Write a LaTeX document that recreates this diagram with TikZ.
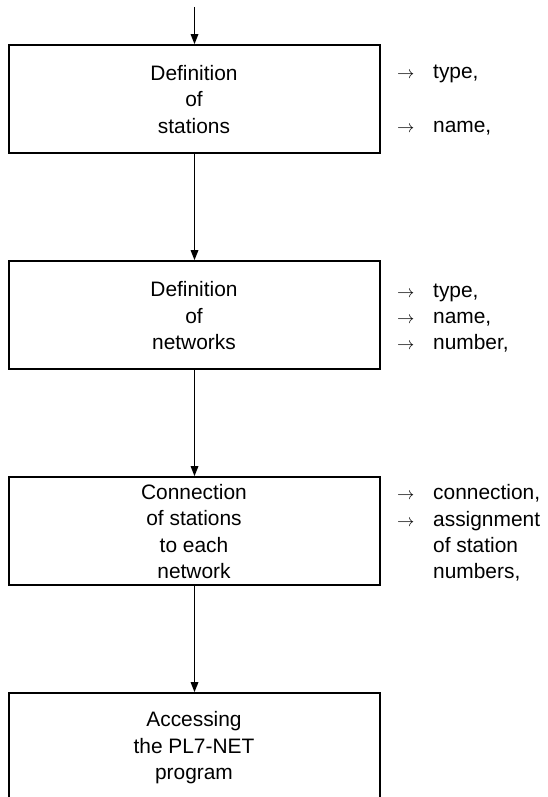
\documentclass[tikz,border=0pt]{standalone}
\usepackage{fontspec}
\setmainfont{Liberation Sans}
\usetikzlibrary{arrows.meta}
\begin{document}
\begin{tikzpicture}[x=1pt,y=-1pt,
  boxst/.style={draw,line width=1.6pt,minimum width=371pt,minimum height=108pt,inner sep=0pt},
  btext/.style={align=center,anchor=base,inner sep=0pt,font=\fontsize{20.9}{26.5}\selectfont},
  rtext/.style={anchor=base west,inner sep=0pt,font=\fontsize{20.9}{26.5}\selectfont},
  rarr/.style={anchor=base west,inner sep=0pt,font=\fontsize{19}{22}\selectfont},
  flow/.style={line width=1.5pt,-{Triangle[length=10pt,width=7.5pt]}}]
\clip (0,0) rectangle (547,797);
\fill[white] (0,0) rectangle (547,797);
% boxes
\node[boxst] (b1) at (194.5,99) {};
\node[boxst] (b2) at (194.5,315) {};
\node[boxst] (b3) at (194.5,531) {};
\node[boxst] (b4) at (194.5,747) {};
% box texts (anchor base = last line baseline)
\node[btext] (t1) at (194,133) {Definition\\of\\stations};
\node[btext] (t2) at (194,349.5) {Definition\\of\\networks};
\node[btext] (t3) at (194,578.5) {Connection\\of stations\\to each\\network};
\node[btext] (t4) at (194,779.5) {Accessing\\the PL7-NET\\program};
% connectors
\coordinate (start) at (194.5,7);
\draw[flow] (start) -- (b1.north);
\draw[flow] (b1.south) -- (b2.north);
\draw[flow] (b2.south) -- (b3.north);
\draw[flow] (b3.south) -- (b4.north);
% right annotations
\node[rarr] (a11) at (397,78.5) {$\rightarrow$};
\node[rtext] (r11) at (433,78.5) {type,};
\node[rarr] (a12) at (397,132) {$\rightarrow$};
\node[rtext] (r12) at (433,132) {name,};
\node[rarr] (a21) at (397,297.5) {$\rightarrow$};
\node[rtext] (r21) at (433,297.5) {type,};
\node[rarr] (a22) at (397,323.5) {$\rightarrow$};
\node[rtext] (r22) at (433,323.5) {name,};
\node[rarr] (a23) at (397,349.5) {$\rightarrow$};
\node[rtext] (r23) at (433,349.5) {number,};
\node[rarr] (a31) at (397,499) {$\rightarrow$};
\node[rtext] (r31) at (433,499) {connection,};
\node[rarr] (a32) at (397,526) {$\rightarrow$};
\node[rtext] (r32) at (433,526) {assignment};
\node[rtext] (r33) at (433,552.5) {of station};
\node[rtext] (r34) at (433,578.5) {numbers,};
\end{tikzpicture}
\end{document}
